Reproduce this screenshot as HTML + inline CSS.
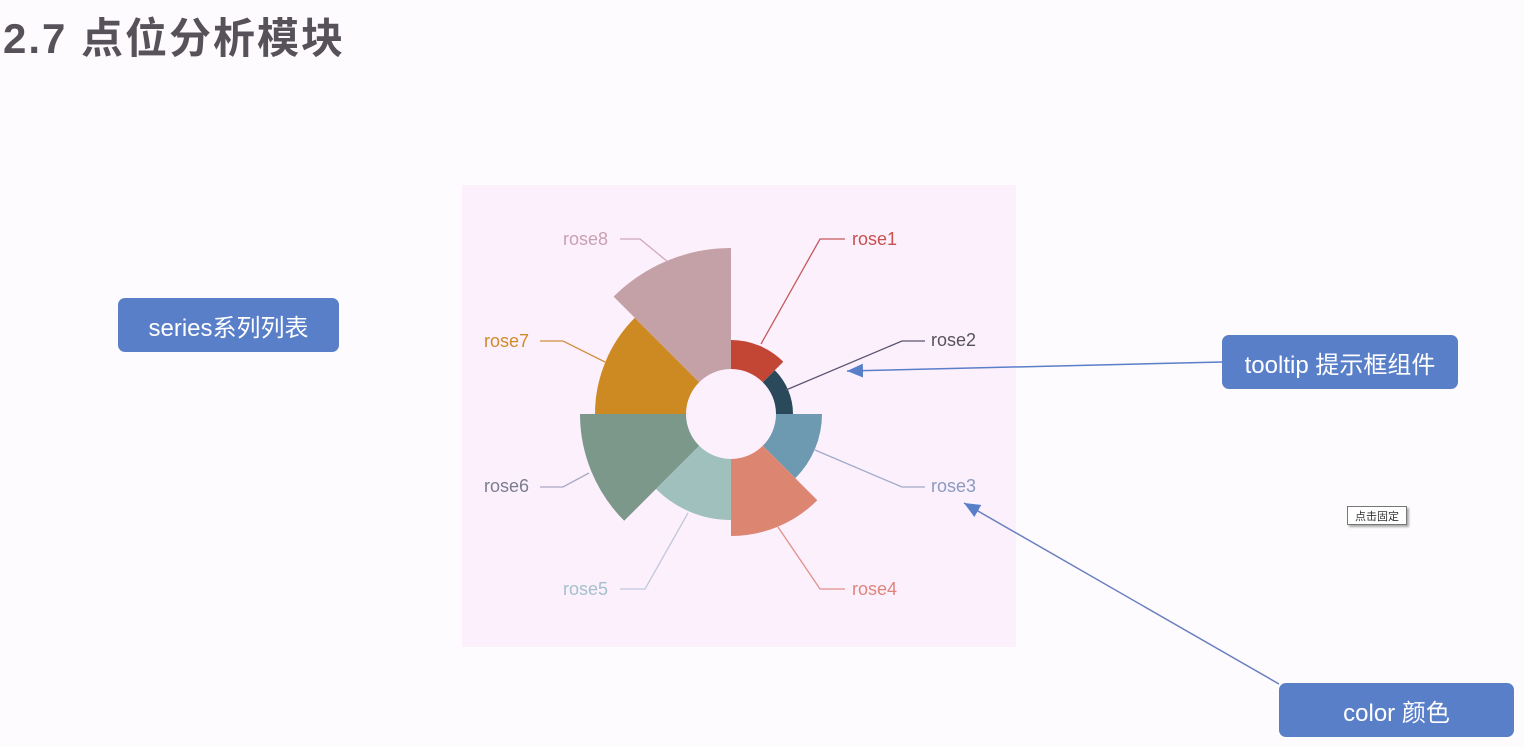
<!DOCTYPE html>
<html><head><meta charset="utf-8"><style>
html,body{margin:0;padding:0;width:1524px;height:747px;background:#fefbfe;overflow:hidden;font-family:"Liberation Sans","Noto Sans CJK SC",sans-serif}
.t{position:absolute;left:3px;top:5px;font-size:42px;font-weight:bold;color:#57515a;letter-spacing:2px;white-space:nowrap}
.b{position:absolute;background:#5a7fc9;color:#fff;border-radius:7px;display:flex;align-items:center;justify-content:center;font-size:24px}
.tip{position:absolute;left:1347px;top:506px;width:58px;height:17px;border:1px solid #777;background:#fff;font-size:11px;color:#333;display:flex;align-items:center;justify-content:center;box-shadow:2px 2px 2px #aaa}
</style></head><body>
<div class="t">2.7 点位分析模块</div>
<svg width="1524" height="747" style="position:absolute;left:0;top:0">
<defs><marker id="ar" markerWidth="16" markerHeight="14" refX="16" refY="7" orient="auto" markerUnits="userSpaceOnUse"><path d="M0,0 L16,7 L0,14 Z" fill="#5a7fc9"/></marker></defs>
<rect x="462" y="185" width="554" height="462" fill="#fdf0fd"/>
<path d="M731,369 L731,340 A74,74 0 0 1 783.3,361.7 L762.8,382.2 A45,45 0 0 0 731,369 Z" fill="#c34534"/>
<path d="M762.8,382.2 L774.8,370.2 A62,62 0 0 1 793,414 L776,414 A45,45 0 0 0 762.8,382.2 Z" fill="#2a4a5c"/>
<path d="M776,414 L822,414 A91,91 0 0 1 795.3,478.3 L762.8,445.8 A45,45 0 0 0 776,414 Z" fill="#6d9ab0"/>
<path d="M762.8,445.8 L817.3,500.3 A122,122 0 0 1 731,536 L731,459 A45,45 0 0 0 762.8,445.8 Z" fill="#dc8570"/>
<path d="M731,459 L731,520 A106,106 0 0 1 656,489 L699.2,445.8 A45,45 0 0 0 731,459 Z" fill="#9fc0bd"/>
<path d="M699.2,445.8 L624.2,520.8 A151,151 0 0 1 580,414 L686,414 A45,45 0 0 0 699.2,445.8 Z" fill="#7c988a"/>
<path d="M686,414 L595,414 A136,136 0 0 1 634.8,317.8 L699.2,382.2 A45,45 0 0 0 686,414 Z" fill="#ce8a22"/>
<path d="M699.2,382.2 L613.6,296.6 A166,166 0 0 1 731,248 L731,369 A45,45 0 0 0 699.2,382.2 Z" fill="#c4a1a7"/>
<g fill="none" stroke-width="1.3">
<polyline points="761,344 820,239 845,239" stroke="#c55a5a"/>
<polyline points="786,390 902,341 925,341" stroke="#5a5570"/>
<polyline points="815,450 902,487 925,487" stroke="#a0aac8"/>
<polyline points="778,527 820,589 845,589" stroke="#e09088"/>
<polyline points="688,513 645,589 620,589" stroke="#c0c8dc"/>
<polyline points="589,473 563,487 540,487" stroke="#a8a8c4"/>
<polyline points="605,362 563,341 540,341" stroke="#d09040"/>
<polyline points="668,262 640,239 620,239" stroke="#d0a8b8"/>
</g>
<g font-size="18" font-family="Liberation Sans, sans-serif">
<text x="852" y="245" fill="#c8504e">rose1</text>
<text x="931" y="346" fill="#55535e">rose2</text>
<text x="931" y="492" fill="#8a9ac0">rose3</text>
<text x="852" y="595" fill="#e0847a">rose4</text>
<text x="563" y="595" fill="#a4c0cc">rose5</text>
<text x="484" y="492" fill="#7a7d90">rose6</text>
<text x="484" y="347" fill="#d08a2a">rose7</text>
<text x="563" y="245" fill="#c8a0b0">rose8</text>
</g>
<line x1="1222" y1="362" x2="847" y2="371" stroke="#5a7fc9" stroke-width="1.5" marker-end="url(#ar)"/>
<line x1="1279" y1="684" x2="964" y2="503" stroke="#6a80c0" stroke-width="1.5" marker-end="url(#ar)"/>
</svg>
<div class="b" style="left:118px;top:298px;width:221px;height:54px">series系列列表</div>
<div class="b" style="left:1222px;top:335px;width:236px;height:54px">tooltip 提示框组件</div>
<div class="b" style="left:1279px;top:683px;width:235px;height:54px">color 颜色</div>
<div class="tip">点击固定</div>
</body></html>
